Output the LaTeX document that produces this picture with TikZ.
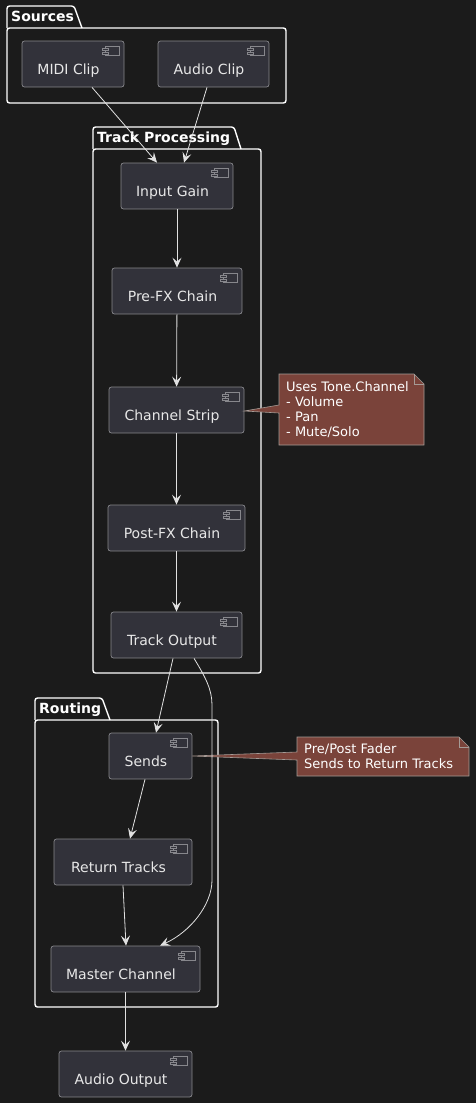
\documentclass[tikz,border=0pt]{standalone}
\usepackage{fontspec}
\setmainfont{DejaVu Sans}
\usetikzlibrary{arrows.meta,calc}
\definecolor{bg}{RGB}{27,27,27}
\definecolor{compfill}{RGB}{50,50,58}
\definecolor{compborder}{RGB}{135,135,140}
\definecolor{comptextc}{RGB}{232,232,232}
\definecolor{linec}{RGB}{225,225,225}
\definecolor{notefill}{RGB}{122,67,58}
\definecolor{noteborder}{RGB}{165,155,150}
\tikzset{
  compbox/.style={draw=compborder, fill=compfill, rounded corners=2.5pt, line width=0.7pt, inner sep=0pt},
  comptext/.style={text=comptextc, font=\fontsize{14}{16}\selectfont, inner sep=0pt, anchor=base},
  iconst/.style={draw=compborder, line width=0.6pt, fill=compfill},
  pkg/.style={draw=white, line width=1.4pt, rounded corners=2.5pt},
  pkgtitle/.style={text=white, font=\fontsize{14}{16}\selectfont\bfseries, inner sep=0pt, anchor=base west},
  arr/.style={draw=linec, line width=0.8pt, -{Stealth[length=10pt,width=9pt,inset=4pt]}},
  notebox/.style={draw=noteborder, fill=notefill, line width=0.6pt},
  notetext/.style={text=white, font=\fontsize{13}{15}\selectfont, inner sep=0pt, align=left, anchor=north west}
}
\newcommand\cicon[1]{%
  \draw[iconst] ($(#1.north east)+(-19,6)$) rectangle ++(14,9);
  \draw[iconst] ($(#1.north east)+(-22,8)$) rectangle ++(6,2);
  \draw[iconst] ($(#1.north east)+(-22,12)$) rectangle ++(6,2);
}
\newcommand\comp[6]{% name, cx, cy, w, text
  \node[compbox, minimum width=#4pt, minimum height=#5pt] (#1) at (#2,#3) {};
  \node[comptext] (#1-t) at ($(#1.center)+(-4.5,10)$) {#6};
  \cicon{#1}
}
\begin{document}
\begin{tikzpicture}[x=1pt,y=-1pt]
\fill[bg] (0,0) rectangle (476,1103);
\useasboundingbox (0,0) rectangle (476,1103);

% packages
\draw[pkg] (7,28) -- (7,6) -- (74,6) -- (82,28);
\draw[pkg] (7,28) rectangle (286,103);
\node[pkgtitle] (p-src) at (11,21) {Sources};

\draw[pkg] (93,149) -- (93,127) -- (234,127) -- (241,149);
\draw[pkg] (93,149) rectangle (261,673);
\node[pkgtitle] (p-trk) at (97,142) {Track Processing};

\draw[pkg] (35,720) -- (35,698) -- (102,698) -- (110,720);
\draw[pkg] (35,720) rectangle (218,1007);
\node[pkgtitle] (p-rte) at (39,713) {Routing};

% components
\comp{midi}{73}{64}{102}{46}{MIDI Clip}
\comp{audio}{213.5}{64}{111}{46}{Audio Clip}
\comp{ig}{177}{186}{112}{46}{Input Gain}
\comp{prefx}{177}{291}{130}{46}{Pre-FX Chain}
\comp{cs}{176.5}{410}{135}{46}{Channel Strip}
\comp{postfx}{176.5}{528}{137}{46}{Post-FX Chain}
\comp{to}{176.5}{635}{131}{46}{Track Output}
\comp{sends}{150.5}{756}{83}{46}{Sends}
\comp{ret}{123}{862}{138}{46}{Return Tracks}
\comp{master}{125.5}{969}{149}{46}{Master Channel}
\comp{aout}{125.5}{1074}{133}{46}{Audio Output}

% notes
\draw[notebox] (279,374) -- (414,374) -- (424,384) -- (424,445) -- (279,445) -- (279,413) -- (cs.east |- 0,411) -- (279,405) -- cycle;
\draw[notebox, fill=none] (414,374) -- (414,384) -- (424,384);
\node[notetext] (n1) at (286,381) {Uses Tone.Channel\\- Volume\\- Pan\\- Mute/Solo};

\draw[notebox] (297,737) -- (459,737) -- (469,747) -- (469,776) -- (297,776) -- (297,760) -- (sends.east |- 0,756) -- (297,752) -- cycle;
\draw[notebox, fill=none] (459,737) -- (459,747) -- (469,747);
\node[notetext] (n2) at (304,743) {Pre/Post Fader\\Sends to Return Tracks};

% connectors
\draw[arr] ($(midi.south)+(19,0)$) -- ($(ig.north)+(-20,0)$);
\draw[arr] ($(audio.south)+(-6.5,0)$) -- ($(ig.north)+(7,0)$);
\draw[arr] (ig) -- (prefx);
\draw[arr] (prefx) -- (cs);
\draw[arr] (cs) -- (postfx);
\draw[arr] (postfx) -- (to);
\draw[arr] ($(to.south)+(-3.5,0)$) -- ($(sends.north)+(5.5,0)$);
\draw[arr] ($(to.south)+(17.5,0)$) .. controls (206,678) and (212,690) .. (212,705) -- (212,880) .. controls (212,905) and (190,932) .. ($(master.north)+(34.5,0)$);
\draw[arr] ($(sends.south)+(-5.5,0)$) -- ($(ret.north)+(7,0)$);
\draw[arr] (ret.south) -- ($(master.north)+(0.5,0)$);
\draw[arr] (master) -- (aout);
\end{tikzpicture}
\end{document}
